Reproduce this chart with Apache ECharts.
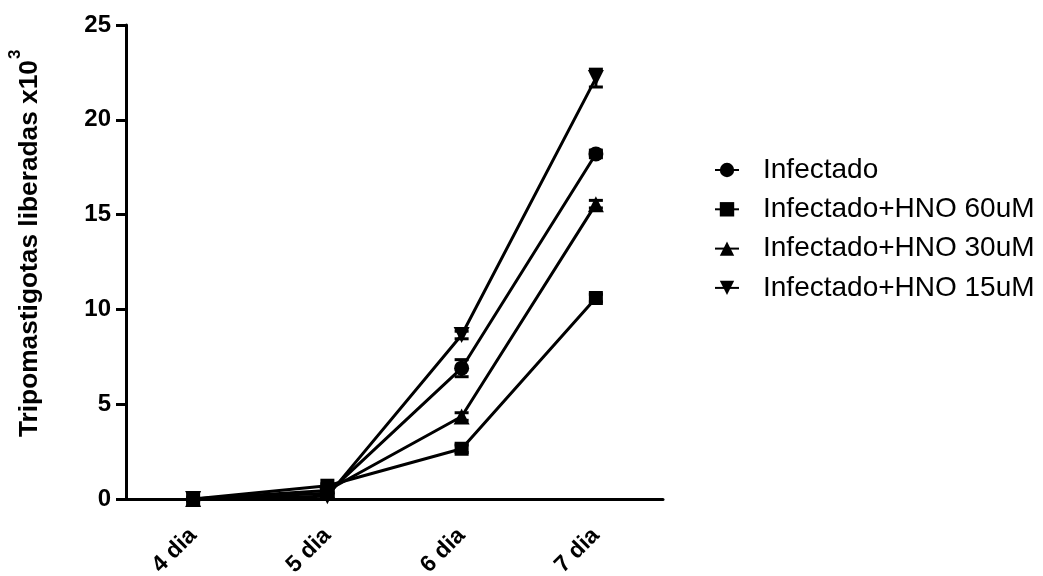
<!DOCTYPE html>
<html>
<head>
<meta charset="utf-8">
<script src="https://cdn.jsdelivr.net/npm/echarts@6/dist/echarts.min.js"></script>
<style>
html,body{margin:0;padding:0;background:#fff;}
#chart{width:1043px;height:576px;}
</style>
</head>
<body>
<div id="chart"></div>
<script>
// ---- data ----
const categories = ['4 dia', '5 dia', '6 dia', '7 dia'];
const seriesNames = ['Infectado', 'Infectado+HNO 60uM', 'Infectado+HNO 30uM', 'Infectado+HNO 15uM'];
const infectado = [0, 0.3, 6.9, 18.2];
const hno60 = [0, 0.7, 2.65, 10.6];
const hno30 = [0, 0.45, 4.35, 15.55];
const hno15 = [0, 0.15, 8.65, 22.2];
const infectadoErr = [0, 0.1, 0.45, 0.2];
const hno60Err = [0, 0.1, 0.2, 0.2];
const hno30Err = [0, 0.1, 0.2, 0.2];
const hno15Err = [0, 0.05, 0.2, 0.47];
const yTicks = [0, 5, 10, 15, 20, 25];
const yTitle = 'Tripomastigotas liberadas x10';
const yTitleSup = '3';

const values = [infectado, hno60, hno30, hno15];
const errors = [infectadoErr, hno60Err, hno30Err, hno15Err];
const symbols = ['circle', 'rect', 'triangle', 'triangle'];
const symbolRotates = [0, 0, 0, 180];
const symbolSizes = [15, 14, 16, 16];

const chart = echarts.init(document.getElementById('chart'), null, {renderer: 'canvas'});

const series = [];
values.forEach((vals, i) => {
  const errData = vals.map((v, j) => [j, v, errors[i][j]]);
  series.push({
    type: 'custom',
    name: seriesNames[i] + ' err',
    z: 1,
    silent: true,
    encode: {x: 0, y: 1},
    data: errData,
    renderItem: function (params, api) {
      const x = api.value(0), v = api.value(1), e = api.value(2);
      if (!e) return null;
      const top = api.coord([x, v + e]);
      const bot = api.coord([x, v - e]);
      const hw = 7;
      const st = {stroke: '#000', lineWidth: 3};
      return {
        type: 'group',
        children: [
          {type: 'line', shape: {x1: top[0], y1: top[1], x2: bot[0], y2: bot[1]}, style: st},
          {type: 'line', shape: {x1: top[0] - hw, y1: top[1], x2: top[0] + hw, y2: top[1]}, style: st},
          {type: 'line', shape: {x1: bot[0] - hw, y1: bot[1], x2: bot[0] + hw, y2: bot[1]}, style: st}
        ]
      };
    }
  });
});
values.forEach((vals, i) => {
  series.push({
    type: 'line',
    name: seriesNames[i],
    data: vals,
    z: 3,
    symbol: symbols[i],
    symbolRotate: symbolRotates[i],
    symbolSize: symbolSizes[i],
    showAllSymbol: true,
    lineStyle: {color: '#000', width: 3},
    itemStyle: {color: '#000', borderWidth: 0},
    emphasis: {disabled: true}
  });
});

const option = {
  animation: false,
  backgroundColor: '#fff',
  grid: {left: 126, right: 380, top: 25, bottom: 77, containLabel: false, outerBoundsMode: 'none'},
  legend: {
    orient: 'vertical',
    left: 714,
    top: 155,
    padding: 0,
    data: seriesNames,
    itemWidth: 24,
    itemHeight: 18,
    itemGap: 9.3,
    selectedMode: false,
    textStyle: {
      fontFamily: 'Liberation Sans, Arial, sans-serif',
      fontSize: 28,
      color: '#000',
      lineHeight: 30,
      padding: [0, 0, 0, 19]
    }
  },
  xAxis: {
    type: 'category',
    data: categories,
    boundaryGap: true,
    axisLine: {lineStyle: {color: '#000', width: 3}},
    axisTick: {alignWithLabel: true, length: 9, lineStyle: {color: '#000', width: 3}},
    axisLabel: {
      rotate: 45,
      margin: 33,
      color: '#000',
      fontFamily: 'Liberation Sans, Arial, sans-serif',
      fontWeight: 'bold',
      fontSize: 23
    },
    splitLine: {show: false}
  },
  yAxis: {
    type: 'value',
    min: yTicks[0],
    max: yTicks[yTicks.length - 1],
    interval: yTicks[1] - yTicks[0],
    axisLine: {show: true, lineStyle: {color: '#000', width: 3}},
    axisTick: {show: true, length: 10, lineStyle: {color: '#000', width: 3}},
    axisLabel: {
      margin: 15,
      color: '#000',
      fontFamily: 'Liberation Sans, Arial, sans-serif',
      fontWeight: 'bold',
      fontSize: 24
    },
    splitLine: {show: false}
  },
  graphic: [
    {
      type: 'text',
      x: 30, y: 60,
      rotation: Math.PI / 2,
      style: {
        text: yTitle,
        font: 'bold 26.3px "Liberation Sans", Arial, sans-serif',
        fill: '#000',
        align: 'right',
        verticalAlign: 'middle'
      }
    },
    {
      type: 'text',
      x: 15, y: 59,
      rotation: Math.PI / 2,
      style: {
        text: yTitleSup,
        font: 'bold 17px "Liberation Sans", Arial, sans-serif',
        fill: '#000',
        align: 'left',
        verticalAlign: 'middle'
      }
    }
  ],
  series: series
};
chart.setOption(option);
</script>
</body>
</html>
